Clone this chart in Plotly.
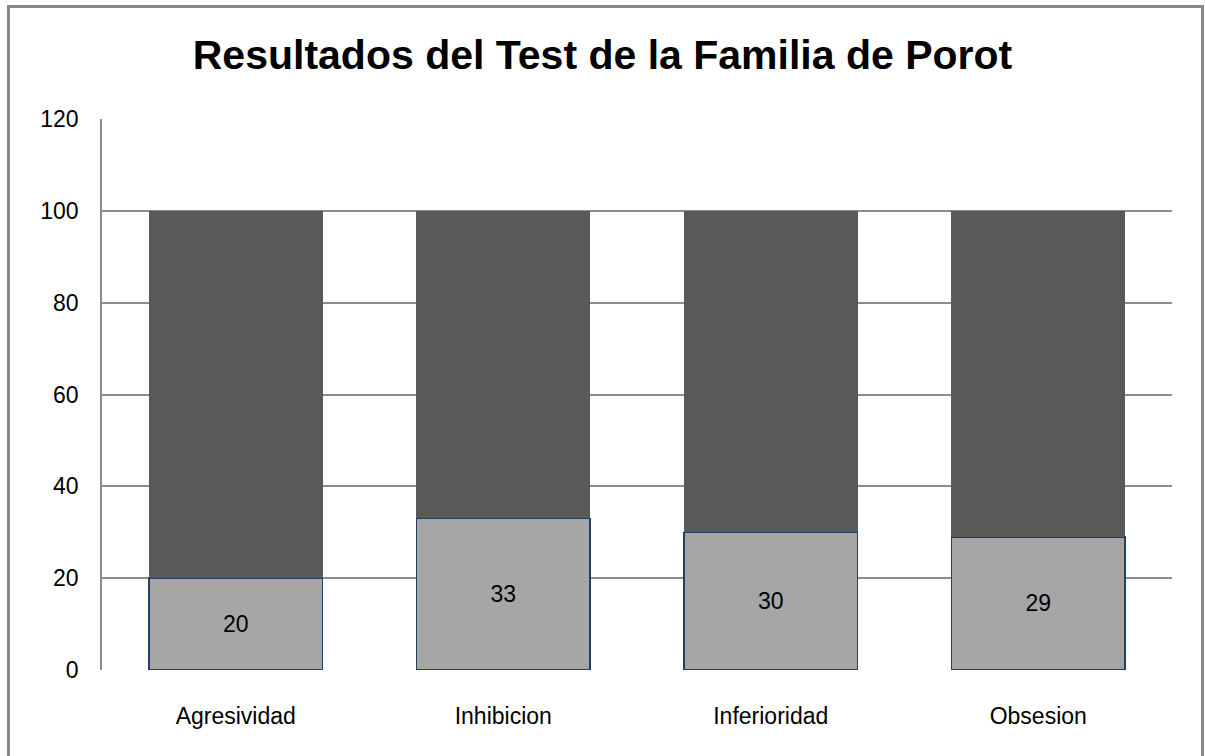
import plotly.graph_objects as go

categories = ["Agresividad", "Inhibicion", "Inferioridad", "Obsesion"]
lower_values = [20, 33, 30, 29]
upper_values = [80, 67, 70, 71]
y_ticks = [0, 20, 40, 60, 80, 100, 120]
title_text = "Resultados del Test de la Familia de Porot"

font_main = "Liberation Sans Narrow, Arial Narrow, Liberation Sans, Arial, sans-serif"

fig = go.Figure()
fig.add_trace(go.Bar(
    x=categories, y=lower_values,
    marker=dict(color="#A6A6A6", line=dict(color="#243F60", width=1.5)),
    text=[str(v) for v in lower_values],
    textposition="inside", insidetextanchor="middle",
    textfont=dict(color="black", size=23, family=font_main),
    showlegend=False, hoverinfo="skip",
))
fig.add_trace(go.Bar(
    x=categories, y=upper_values,
    marker=dict(color="#595959", line=dict(width=0)),
    showlegend=False, hoverinfo="skip",
))

W, H = 1205, 756
L, R, T, B = 102, 33, 119, 86
pw, ph = W - L - R, H - T - B

def px_x(x):
    return (x - L) / pw

def px_y(y):
    return (H - B - y) / ph

fig.update_layout(
    width=W, height=H,
    barmode="stack", bargap=0.35,
    margin=dict(l=L, r=R, t=T, b=B, pad=0),
    paper_bgcolor="white", plot_bgcolor="white",
    font=dict(family=font_main, size=23, color="black"),
    title=dict(text="<b>" + title_text + "</b>", x=0.5, xanchor="center",
               y=1 - 55 / H, yanchor="middle",
               font=dict(size=41, family=font_main, color="black")),
    xaxis=dict(showgrid=False, showline=False, ticks="", ticklabelstandoff=30,
               tickfont=dict(size=23)),
    yaxis=dict(range=[0, 120], tickvals=y_ticks, showgrid=True,
               gridcolor="#8C8C8C", gridwidth=1.5, zeroline=False,
               showline=True, linecolor="#8C8C8C", linewidth=1.5,
               ticks="", ticklabelstandoff=17, tickfont=dict(size=23)),
    shapes=[dict(type="rect", xref="paper", yref="paper",
                 x0=px_x(8.5), x1=px_x(1202.5), y0=px_y(6.5), y1=px_y(770),
                 line=dict(color="#888888", width=3), fillcolor="rgba(0,0,0,0)",
                 layer="below")],
)

fig.write_html("out.html", config={"displayModeBar": False},
               post_script="document.body.style.margin='0';")
